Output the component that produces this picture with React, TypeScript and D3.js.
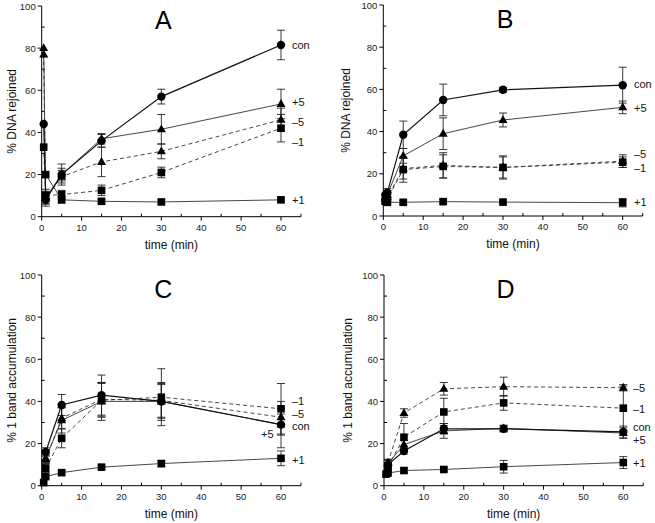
import React from 'react';
import * as d3 from 'd3';

// sampling times (min)
const times = [0.5, 1, 5, 15, 30, 60];
const xTicks = [0, 10, 20, 30, 40, 50, 60];
const yTicks = [0, 20, 40, 60, 80, 100];
const seriesNames = ['con', '+5', '–5', '–1', '+1'];

// panel A: % DNA rejoined
const aCon = [44, 8, 20, 36, 57, 81.5];
const aP5 = [80, 9, 20, 37, 41.5, 53.5];
const aM5 = [77, 9, 19, 26, 31, 46];
const aM1 = [33, 10, 10.5, 12.5, 21, 42];
const aP1 = [null, 20, 8, 7.3, 7, 8];
const aConErr = [null, 3, 3, 3, 3.5, 7];
const aP5Err = [null, 3, 5, 2.5, 7, 7];
const aM5Err = [null, 3, 3, 7, 3.5, 5.5];
const aM1Err = [null, 3, 2, 2.5, 2.5, 6.5];
const aP1Err = [null, null, 1.5, 1, 1, 1];

// panel B: % DNA rejoined
const bCon = [10, 11, 38.5, 55, 59.8, 62];
const bP5 = [9, 10, 28.5, 39, 45.5, 51.5];
const bM5 = [8, 9, 22.5, 24, 23, 26];
const bM1 = [7, 8, 22, 23.5, 23, 25.5];
const bP1 = [7, 6.5, 6.5, 6.8, 6.6, 6.3];
const bConErr = [null, 2, 6.5, 7.5, 1.2, 8.5];
const bP5Err = [null, 2, 3.5, 7.5, 3.3, 3];
const bM5Err = [null, 2, 5, 6, 5.5, 3];
const bM1Err = [null, 2, 6, 5.5, 5, 2.5];
const bP1Err = [null, 1, 1, 1, 1, 2];

// panel C: % 1 band accumulation
const cCon = [null, 16, 38.3, 43, 40, 29];
const cP5 = [null, 13, 31, 40, 40, 29];
const cM5 = [null, 12.5, 32, 41, 40.5, 32.5];
const cM1 = [null, 8.3, 22.5, 40.5, 42, 36.5];
const cP1 = [1.5, 4.3, 6.2, 8.8, 10.5, 13];
const cConErr = [null, 2, 5, 9.5, 9, 11];
const cP5Err = [null, 2, 6, 9, 8, 5];
const cM5Err = [null, 2, 5, 8, 8, 4];
const cM1Err = [null, 2, 4.5, 8, 13.5, 12];
const cP1Err = [null, 1, 1, 1, 1.5, 3.5];

// panel D: % 1 band accumulation
const dCon = [null, 10, 16.5, 27, 27, 25.5];
const dP5 = [null, 10.5, 19.5, 26, 27.2, 25];
const dM5 = [null, 11, 34.5, 46, 47, 46.5];
const dM1 = [null, 9, 23, 35, 39.3, 36.8];
const dP1 = [5.5, 6, 7.2, 7.7, 9, 11];
const dConErr = [null, 2, 1.5, 2.5, 1.5, 2.8];
const dP5Err = [null, 2, 2, 3.5, 1.5, 2.5];
const dM5Err = [null, 1.5, 2, 3, 4.5, 1.5];
const dM1Err = [null, 2, 6.5, 6.5, 3.5, 10.5];
const dP1Err = [null, 1, 1, 1, 3, 2.8];

type Num = number | null;

const styles: Record<string, { marker: string; dash: string | null; width: number }> = {
  'con': { marker: 'circle', dash: null, width: 1.2 },
  '+5': { marker: 'triangle', dash: null, width: 0.9 },
  '–5': { marker: 'triangle', dash: '4,3', width: 0.9 },
  '–1': { marker: 'square', dash: '4,3', width: 0.9 },
  '+1': { marker: 'square', dash: null, width: 0.9 },
};

const panels = [
  {
    letter: 'A', ylabel: '% DNA rejoined', x0: 41.7, x1: 281, y0: 216.7, y1: 6,
    values: [aCon, aP5, aM5, aM1, aP1], errs: [aConErr, aP5Err, aM5Err, aM1Err, aP1Err],
    labels: [[292, 49], [292, 106], [292, 126], [292, 146], [292, 204]],
    ylx: 16,
  },
  {
    letter: 'B', ylabel: '% DNA rejoined', x0: 383.3, x1: 622.7, y0: 216, y1: 5,
    values: [bCon, bP5, bM5, bM1, bP1], errs: [bConErr, bP5Err, bM5Err, bM1Err, bP1Err],
    labels: [[634, 88], [634, 112], [634, 158], [634, 172], [634, 206]],
    ylx: 350,
  },
  {
    letter: 'C', ylabel: '% 1 band accumulation', x0: 41.7, x1: 281, y0: 485.7, y1: 275,
    values: [cCon, cP5, cM5, cM1, cP1], errs: [cConErr, cP5Err, cM5Err, cM1Err, cP1Err],
    labels: [[292, 430], [261, 438], [292, 418], [292, 405], [292, 464]],
    ylx: 16,
  },
  {
    letter: 'D', ylabel: '% 1 band accumulation', x0: 384, x1: 623.3, y0: 485.7, y1: 275,
    values: [dCon, dP5, dM5, dM1, dP1], errs: [dConErr, dP5Err, dM5Err, dM1Err, dP1Err],
    labels: [[633, 431], [633, 444], [633, 392], [633, 413], [633, 467]],
    ylx: 352,
  },
];

const font = 'Arial, "Liberation Sans", sans-serif';

function Marker({ kind, x, y }: { kind: string; x: number; y: number }) {
  if (kind === 'circle') return <circle cx={x} cy={y} r={4.2} fill="#000" />;
  if (kind === 'square') return <rect x={x - 3.8} y={y - 3.8} width={7.6} height={7.6} fill="#000" />;
  const s = 9;
  const h = s * 0.87;
  return <path d={`M${x},${y - h * 0.62}L${x + s / 2},${y + h * 0.38}L${x - s / 2},${y + h * 0.38}Z`} fill="#000" />;
}

function Panel({ p }: { p: typeof panels[number] }) {
  const x = d3.scaleLinear().domain([0, 60]).range([p.x0, p.x1]);
  const y = d3.scaleLinear().domain([0, 100]).range([p.y0, p.y1]);
  const line = d3.line<[number, Num]>()
    .defined((d) => d[1] !== null)
    .x((d) => x(d[0]))
    .y((d) => y(d[1] as number));
  const xMinor = d3.range(5, 70, 10);
  const yMinor = d3.range(10, 100, 20);
  const order = [4, 3, 2, 1, 0];
  return (
    <g>
      {/* axes */}
      <line x1={x(0)} x2={x(65)} y1={y(0)} y2={y(0)} stroke="#000" strokeWidth={1} />
      <line x1={x(0)} x2={x(0)} y1={y(0)} y2={y(100)} stroke="#000" strokeWidth={1} />
      {xTicks.map((t) => (
        <g key={'xt' + t}>
          <line x1={x(t)} x2={x(t)} y1={y(0)} y2={y(0) + 4} stroke="#000" />
          <text x={x(t)} y={y(0) + 14} textAnchor="middle" fontSize={9.5} fontFamily={font} fill="#222">{t}</text>
        </g>
      ))}
      {xMinor.map((t) => (
        <line key={'xm' + t} x1={x(t)} x2={x(t)} y1={y(0)} y2={y(0) - 3} stroke="#000" />
      ))}
      {yTicks.map((t) => (
        <g key={'yt' + t}>
          <line x1={x(0) - 4} x2={x(0)} y1={y(t)} y2={y(t)} stroke="#000" />
          <text x={x(0) - 6} y={y(t) + 3.5} textAnchor="end" fontSize={9.5} fontFamily={font} fill="#222">{t}</text>
        </g>
      ))}
      {yMinor.map((t) => (
        <line key={'ym' + t} x1={x(0)} x2={x(0) + 3} y1={y(t)} y2={y(t)} stroke="#000" />
      ))}
      <text x={(p.x0 + p.x1) / 2 + 10} y={y(0) + 32} textAnchor="middle" fontSize={12} fontFamily={font} fill="#111">time (min)</text>
      <text transform={`translate(${p.ylx},${(p.y0 + p.y1) / 2}) rotate(-90)`} textAnchor="middle" fontSize={12} fontFamily={font} fill="#111">{p.ylabel}</text>
      <text x={(p.x0 + p.x1) / 2 + 2} y={p.y1 + 23} textAnchor="middle" fontSize={25} fontFamily={font} fill="#000">{p.letter}</text>
      {/* error bars */}
      {order.map((si) => p.values[si].map((v, i) => {
        const e = p.errs[si][i];
        if (v === null || e === null) return null;
        const cx = x(times[i]);
        return (
          <g key={`e${si}-${i}`} stroke="#222" strokeWidth={0.9}>
            <line x1={cx} x2={cx} y1={y(v - e)} y2={y(v + e)} />
            <line x1={cx - 4} x2={cx + 4} y1={y(v - e)} y2={y(v - e)} />
            <line x1={cx - 4} x2={cx + 4} y1={y(v + e)} y2={y(v + e)} />
          </g>
        );
      }))}
      {/* lines */}
      {order.map((si) => {
        const st = styles[seriesNames[si]];
        const pts = times.map((t, i) => [t, p.values[si][i]] as [number, Num]);
        return (
          <path key={'l' + si} d={line(pts) || ''} fill="none" stroke={si === 0 ? '#111' : '#333'}
            strokeWidth={st.width} strokeDasharray={st.dash || undefined} />
        );
      })}
      {/* markers */}
      {order.map((si) => p.values[si].map((v, i) => (
        v === null ? null : <Marker key={`m${si}-${i}`} kind={styles[seriesNames[si]].marker} x={x(times[i])} y={y(v)} />
      )))}
      {/* series labels */}
      {seriesNames.map((n, si) => (
        <text key={'lab' + si} x={p.labels[si][0]} y={p.labels[si][1]} fontSize={11} fontFamily={font} fill="#111">{n}</text>
      ))}
    </g>
  );
}

export default function App() {
  return (
    <svg width={655} height={523} style={{ position: 'absolute', left: 0, top: 0, background: '#fff' }}>
      <rect width={655} height={523} fill="#fff" />
      {panels.map((p) => <Panel key={p.letter} p={p} />)}
    </svg>
  );
}
